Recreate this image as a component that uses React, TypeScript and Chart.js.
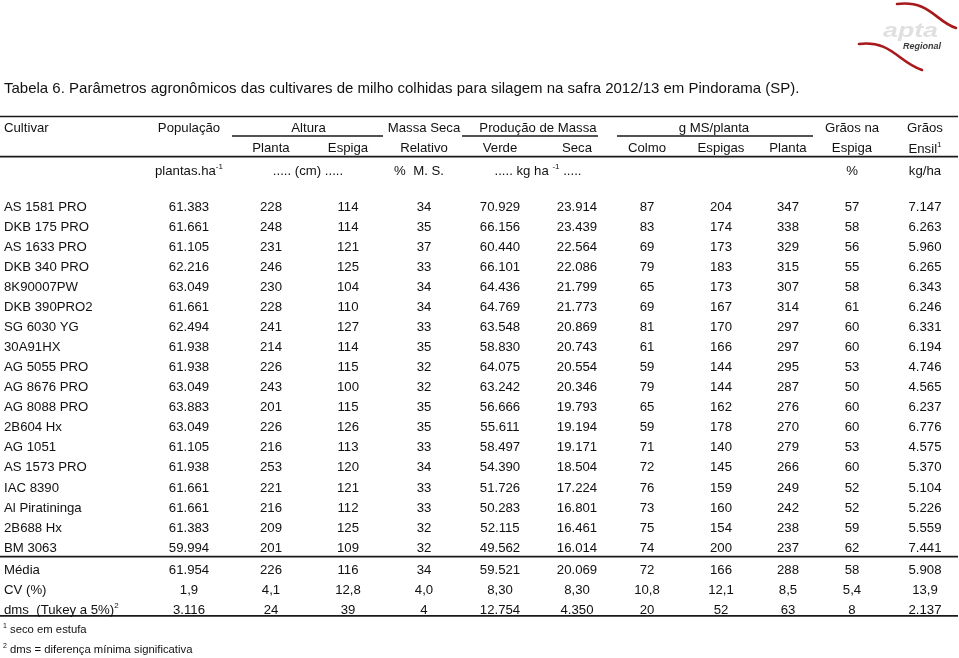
import React, { useEffect, useRef } from "react";
import { Chart, registerables } from "chart.js";
Chart.register(...registerables);

// ---------------- DATA ----------------
const title =
  "Tabela 6. Parâmetros agronômicos das cultivares de milho colhidas para silagem na safra 2012/13 em Pindorama (SP).";

const cultivars = [
  "AS 1581 PRO", "DKB 175 PRO", "AS 1633 PRO", "DKB 340 PRO", "8K90007PW", "DKB 390PRO2",
  "SG 6030 YG", "30A91HX", "AG 5055 PRO", "AG 8676 PRO", "AG 8088 PRO", "2B604 Hx",
  "AG 1051", "AS 1573 PRO", "IAC 8390", "Al Piratininga", "2B688 Hx", "BM 3063",
];
const populacao = [61383, 61661, 61105, 62216, 63049, 61661, 62494, 61938, 61938, 63049, 63883, 63049, 61105, 61938, 61661, 61661, 61383, 59994];
const alturaPlanta = [228, 248, 231, 246, 230, 228, 241, 214, 226, 243, 201, 226, 216, 253, 221, 216, 209, 201];
const alturaEspiga = [114, 114, 121, 125, 104, 110, 127, 114, 115, 100, 115, 126, 113, 120, 121, 112, 125, 109];
const massaSecaRel = [34, 35, 37, 33, 34, 34, 33, 35, 32, 32, 35, 35, 33, 34, 33, 33, 32, 32];
const massaVerde = [70929, 66156, 60440, 66101, 64436, 64769, 63548, 58830, 64075, 63242, 56666, 55611, 58497, 54390, 51726, 50283, 52115, 49562];
const massaSeca = [23914, 23439, 22564, 22086, 21799, 21773, 20869, 20743, 20554, 20346, 19793, 19194, 19171, 18504, 17224, 16801, 16461, 16014];
const gColmo = [87, 83, 69, 79, 65, 69, 81, 61, 59, 79, 65, 59, 71, 72, 76, 73, 75, 74];
const gEspigas = [204, 174, 173, 183, 173, 167, 170, 166, 144, 144, 162, 178, 140, 145, 159, 160, 154, 200];
const gPlanta = [347, 338, 329, 315, 307, 314, 297, 297, 295, 287, 276, 270, 279, 266, 249, 242, 238, 237];
const graosNaEspiga = [57, 58, 56, 55, 58, 61, 60, 60, 53, 50, 60, 60, 53, 60, 52, 52, 59, 62];
const graosEnsil = [7147, 6263, 5960, 6265, 6343, 6246, 6331, 6194, 4746, 4565, 6237, 6776, 4575, 5370, 5104, 5226, 5559, 7441];

const mediaRow = [61954, 226, 116, 34, 59521, 20069, 72, 166, 288, 58, 5908];
const cvRow = ["1,9", "4,1", "12,8", "4,0", "8,30", "8,30", "10,8", "12,1", "8,5", "5,4", "13,9"];
const dmsRow = [3116, 24, 39, 4, 12754, 4350, 20, 52, 63, 8, 2137];

const headerGroups = ["População", "Altura", "Massa Seca", "Produção de Massa", "g MS/planta", "Grãos na", "Grãos"];
const headerSubs = ["Planta", "Espiga", "Relativo", "Verde", "Seca", "Colmo", "Espigas", "Planta", "Espiga"];
const footnotes = ["seco em estufa", "dms = diferença mínima significativa"];

// ---------------- LAYOUT ----------------
const W = 959;
const H = 658;
const FAMILY = '"Liberation Sans", Arial, Helvetica, sans-serif';
const colX = [189, 271, 348, 424, 500, 577, 647, 721, 788, 852, 925];
const labelX = 4;
const rowBase0 = 210.7;
const rowStep = 20.06;
const summaryBase = [574, 594, 614];
const BASE = 13.2;
const SUP = 8;
const INK = "#111";

type Part = { t: string; sup?: boolean };
type Cell = { x: number; y: number; parts: Part[]; align: "left" | "center"; size: number };

const fmt = (v: number) =>
  v >= 1000 ? Math.floor(v / 1000) + "." + String(v % 1000).padStart(3, "0") : String(v);

function buildCells(): Cell[] {
  const cells: Cell[] = [];
  const add = (x: number, y: number, parts: Part[] | string, align: "left" | "center" = "center", size = BASE) =>
    cells.push({ x, y, parts: typeof parts === "string" ? [{ t: parts }] : parts, align, size });

  add(4, 92.5, title, "left", 15);

  // header row 1
  add(labelX, 131.5, "Cultivar", "left");
  add(colX[0], 131.5, headerGroups[0]);
  add((colX[1] + colX[2]) / 2 - 1, 131.5, headerGroups[1]);
  add(colX[3], 131.5, headerGroups[2]);
  add(538, 131.5, headerGroups[3]);
  add(714, 131.5, headerGroups[4]);
  add(colX[9], 131.5, headerGroups[5]);
  add(colX[10], 131.5, headerGroups[6]);
  // header row 2
  headerSubs.forEach((s, i) => add(colX[i + 1], 151.5, s));
  add(colX[10], 153, [{ t: "Ensil" }, { t: "1", sup: true }]);
  // header row 3 (units)
  add(colX[0], 175, [{ t: "plantas.ha" }, { t: "-1", sup: true }]);
  add(308, 175, "..... (cm) .....");
  add(419, 175, "%  M. S.");
  add(538, 175, [{ t: "..... kg ha " }, { t: "-1", sup: true }, { t: " ....." }]);
  add(colX[9], 175, "%");
  add(colX[10], 175, "kg/ha");

  const cols = [populacao, alturaPlanta, alturaEspiga, massaSecaRel, massaVerde, massaSeca, gColmo, gEspigas, gPlanta, graosNaEspiga, graosEnsil];
  cultivars.forEach((name, r) => {
    const y = rowBase0 + r * rowStep;
    add(labelX, y, name, "left");
    cols.forEach((col, c) => add(colX[c], y, fmt(col[r])));
  });

  add(labelX, summaryBase[0], "Média", "left");
  mediaRow.forEach((v, c) => add(colX[c], summaryBase[0], fmt(v)));
  add(labelX, summaryBase[1], "CV (%)", "left");
  cvRow.forEach((v, c) => add(colX[c], summaryBase[1], v));
  add(labelX, summaryBase[2], [{ t: "dms  (Tukey a 5%)" }, { t: "2", sup: true }], "left");
  dmsRow.forEach((v, c) => add(colX[c], summaryBase[2], fmt(v)));

  add(3, 632.7, [{ t: "1", sup: true }, { t: " " + footnotes[0] }], "left", 11.3);
  add(3, 652.7, [{ t: "2", sup: true }, { t: " " + footnotes[1] }], "left", 11.3);
  return cells;
}

const rules = [
  { x1: 0, x2: 958, y: 116.5, w: 1.7 },
  { x1: 232, x2: 383, y: 136, w: 1.3 },
  { x1: 462, x2: 598, y: 136, w: 1.3 },
  { x1: 617, x2: 813, y: 136, w: 1.3 },
  { x1: 0, x2: 958, y: 156.7, w: 1.7 },
  { x1: 0, x2: 958, y: 556.7, w: 1.7 },
  { x1: 0, x2: 958, y: 615.8, w: 1.7 },
];

function drawRich(ctx: CanvasRenderingContext2D, cell: Cell, px: number, py: number) {
  const base = `${cell.size}px ${FAMILY}`;
  const supSize = cell.size < 12 ? 7 : SUP;
  const sup = `${supSize}px ${FAMILY}`;
  let total = 0;
  const widths = cell.parts.map((p) => {
    ctx.font = p.sup ? sup : base;
    const w = ctx.measureText(p.t).width;
    total += w;
    return w;
  });
  let x = cell.align === "center" ? px - total / 2 : px;
  cell.parts.forEach((p, i) => {
    ctx.font = p.sup ? sup : base;
    ctx.fillText(p.t, x, p.sup ? py - cell.size * 0.42 : py);
    x += widths[i];
  });
}

export default function App() {
  const ref = useRef<HTMLCanvasElement>(null);
  useEffect(() => {
    if (!ref.current) return;
    const cells = buildCells();
    const textPlugin = {
      id: "tableText",
      afterDatasetsDraw(chart: any) {
        const ctx: CanvasRenderingContext2D = chart.ctx;
        const meta = chart.getDatasetMeta(0);
        ctx.save();
        ctx.fillStyle = INK;
        ctx.textBaseline = "alphabetic";
        ctx.textAlign = "left";
        meta.data.forEach((pt: any, i: number) => drawRich(ctx, cells[i], pt.x, pt.y));
        ctx.restore();
      },
    };
    const logoPlugin = {
      id: "logo",
      afterDraw(chart: any) {
        const ctx: CanvasRenderingContext2D = chart.ctx;
        const sx = (v: number) => chart.scales.x.getPixelForValue(v);
        const sy = (v: number) => chart.scales.y.getPixelForValue(v);
        ctx.save();
        const swoosh = (p: number[][]) => {
          ctx.beginPath();
          ctx.moveTo(sx(p[0][0]), sy(p[0][1]));
          ctx.bezierCurveTo(sx(p[1][0]), sy(p[1][1]), sx(p[2][0]), sy(p[2][1]), sx(p[3][0]), sy(p[3][1]));
          ctx.strokeStyle = "#a8191c";
          ctx.lineWidth = 2.6;
          ctx.lineCap = "round";
          ctx.stroke();
        };
        swoosh([[897, 4], [930, 0], [936, 22], [956, 28]]);
        swoosh([[859, 44], [891, 40], [898, 62], [922, 70]]);
        ctx.font = `italic bold 21px ${FAMILY}`;
        const tw = ctx.measureText("apta").width;
        const g = ctx.createLinearGradient(0, sy(24), 0, sy(40));
        g.addColorStop(0, "#e0e0e0");
        g.addColorStop(1, "#888888");
        ctx.fillStyle = g;
        ctx.translate(sx(883), sy(37));
        ctx.scale(55 / tw, 1);
        ctx.fillText("apta", 0, 0);
        ctx.setTransform(1, 0, 0, 1, 0, 0);
        ctx.font = `italic bold 9px ${FAMILY}`;
        ctx.fillStyle = "#3a3a3a";
        ctx.fillText("Regional", sx(903), sy(48.5));
        ctx.restore();
      },
    };
    const datasets: any[] = [
      {
        data: cells.map((c) => ({ x: c.x, y: c.y })),
        pointRadius: 0,
        showLine: false,
        clip: false,
      },
      ...rules.map((r) => ({
        data: [{ x: r.x1, y: r.y }, { x: r.x2, y: r.y }],
        showLine: true,
        borderColor: "#1a1a1a",
        borderWidth: r.w,
        pointRadius: 0,
        clip: false,
      })),
    ];
    const chart = new Chart(ref.current, {
      type: "scatter",
      data: { datasets },
      options: {
        animation: false,
        responsive: false,
        devicePixelRatio: 1,
        layout: { padding: 0 },
        events: [],
        scales: {
          x: { type: "linear", min: 0, max: W, display: false },
          y: { type: "linear", min: 0, max: H, reverse: true, display: false },
        },
        plugins: { legend: { display: false }, tooltip: { enabled: false } },
      },
      plugins: [textPlugin, logoPlugin],
    } as any);
    return () => chart.destroy();
  }, []);
  return (
    <div style={{ position: "fixed", left: 0, top: 0, width: W, height: H, background: "#fff" }}>
      <canvas ref={ref} width={W} height={H} style={{ display: "block" }} />
    </div>
  );
}
